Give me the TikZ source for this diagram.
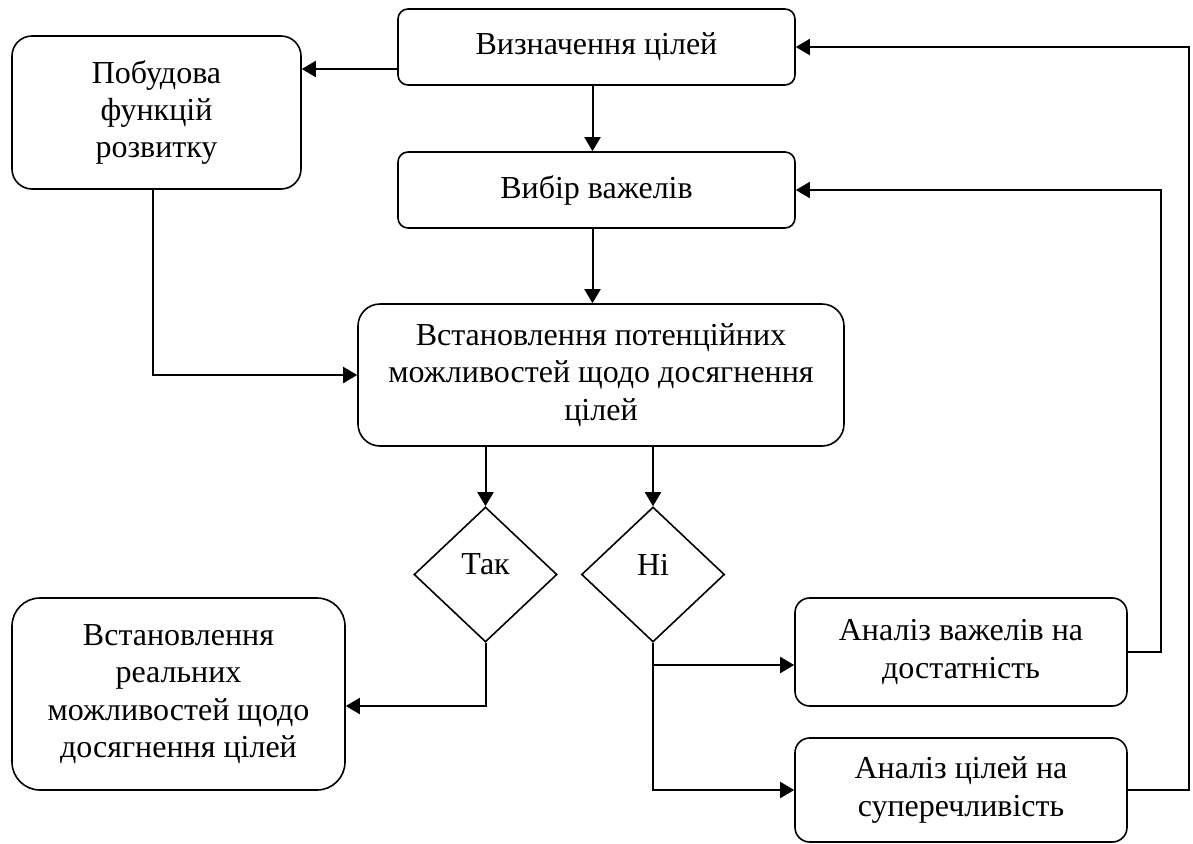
\documentclass[tikz,border=0pt]{standalone}
\usepackage{fontspec}
\setmainfont{Liberation Serif}
\usetikzlibrary{shapes.geometric,arrows.meta,calc}

\begin{document}
\begin{tikzpicture}[x=0.75pt,y=-0.75pt,
  box/.style={draw,line width=1.2pt,align=center,inner sep=0pt,
    font=\fontsize{24}{28}\selectfont},
  diam/.style={draw,shape=diamond,line width=1.2pt,inner sep=0pt,
    minimum width=107.25pt,minimum height=101.25pt},
  lbl/.style={font=\fontsize{24}{28}\selectfont,yshift=7.5pt},
  arr/.style={line width=1.5pt,-{Triangle[length=10.5pt,width=12pt]}}]

\useasboundingbox (0,0) rectangle (1193,843);

% process boxes
\node[box,rounded corners=7.5pt,minimum width=297.75pt,minimum height=57pt]
  (goals) at (596.5,47) {Визначення цілей};
\node[box,rounded corners=15pt,minimum width=216.75pt,minimum height=114.75pt]
  (build) at (156.5,112.5) {Побудова\\функцій\\розвитку};
\node[box,rounded corners=7.5pt,minimum width=297.75pt,minimum height=57pt]
  (levers) at (596.5,190) {Вибір важелів};
\node[box,rounded corners=16.5pt,minimum width=364.5pt,minimum height=106.5pt]
  (potential) at (601,375) {Встановлення потенційних\\можливостей щодо досягнення\\цілей};
\node[box,rounded corners=21pt,minimum width=249.75pt,minimum height=144pt]
  (real) at (178.5,694) {Встановлення\\реальних\\можливостей щодо\\досягнення цілей};
\node[box,rounded corners=11pt,minimum width=249pt,minimum height=81pt]
  (anlev) at (961,652) {Аналіз важелів на\\достатність};
\node[box,rounded corners=11pt,minimum width=249pt,minimum height=78pt]
  (angoal) at (961,790) {Аналіз цілей на\\суперечливість};

% decisions
\node[diam,label={[lbl]center:Так}] (tak) at (485.5,574.5) {};
\node[diam,label={[lbl]center:Ні}] (ni) at (653,574.5) {};

% connectors
\coordinate (g1) at ($(goals.west)+(0,22)$);
\draw[arr] (g1) -- (g1 -| build.east);
\coordinate (gs) at ($(goals.south)+(-4,0)$);
\draw[arr] (gs) -- (gs |- levers.north);
\coordinate (ls) at ($(levers.south)+(-4,0)$);
\draw[arr] (ls) -- (ls |- potential.north);
\draw[arr] ($(build.south)+(-4,0)$) |- (potential.west);

\draw[arr] (tak.north |- potential.south) -- (tak.north);
\draw[arr] (ni.north |- potential.south) -- (ni.north);

\draw[arr] (tak.south) |- ($(real.east)+(0,12)$);
\draw[arr] (ni.south) |- (angoal.west);
\coordinate (av) at ($(anlev.west)+(0,13)$);
\draw[arr] (ni.south |- av) -- (av);

\draw[arr] (anlev.east) -- ++(33,0) |- (levers.east);
\draw[arr] (angoal.east) -- ++(61,0) |- (goals.east);
\end{tikzpicture}
\end{document}
